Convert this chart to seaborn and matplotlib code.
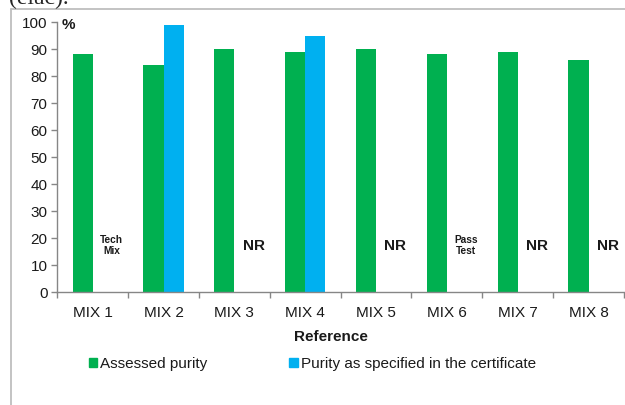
import numpy as np
import pandas as pd
import matplotlib
matplotlib.use('Agg')
import matplotlib.pyplot as plt
from matplotlib.lines import Line2D
from matplotlib.ticker import FixedLocator
import seaborn as sns

# values
mixes = ['MIX 1', 'MIX 2', 'MIX 3', 'MIX 4', 'MIX 5', 'MIX 6', 'MIX 7', 'MIX 8']
assessed = [88, 84, 90, 89, 90, 88, 89, 86]
certificate = [np.nan, 99, np.nan, 95, np.nan, np.nan, np.nan, np.nan]
notes = ['Tech\nMix', None, 'NR', None, 'NR', 'Pass\nTest', 'NR', 'NR']
series = ['Assessed purity', 'Purity as specified in the certificate']
colors = ['#00B050', '#00B0F0']

df = pd.DataFrame({
    'Reference': mixes * 2,
    'value': assessed + certificate,
    'series': [series[0]] * len(mixes) + [series[1]] * len(mixes),
}).dropna()

sns.set_style('white')
plt.rcParams['font.family'] = ['Liberation Sans', 'DejaVu Sans']

fig = plt.figure(figsize=(6.25, 4.05), dpi=100)
ax = fig.add_axes([57.3 / 625, 1 - 292.3 / 405, 566.7 / 625, 270.3 / 405])

sns.barplot(data=df, x='Reference', y='value', hue='series', order=mixes,
            hue_order=series, palette=colors, width=0.57, gap=0,
            saturation=1, linewidth=0, legend=False, ax=ax)

ax.set_xlim(-0.5, len(mixes) - 0.5)
ax.set_ylim(0, 100)
ax.set_yticks(range(0, 101, 10))

grey = '#868686'
for s in ['top', 'right']:
    ax.spines[s].set_visible(False)
for s in ['left', 'bottom']:
    ax.spines[s].set_color(grey)
    ax.spines[s].set_linewidth(1.0)

ax.tick_params(axis='y', direction='out', length=4, color=grey, width=1,
               labelsize=11, labelcolor='#1a1a1a', pad=3, left=True)
ax.tick_params(axis='x', which='major', length=0, labelsize=11,
               labelcolor='#1a1a1a', pad=10)
ax.xaxis.set_minor_locator(FixedLocator(np.arange(-0.5, len(mixes), 1.0)))
ax.tick_params(axis='x', which='minor', direction='out', length=4,
               color=grey, width=1, bottom=True)

ax.set_ylabel('')
ax.set_xlabel('Reference', fontsize=11, fontweight='bold', color='#1a1a1a')
ax.xaxis.set_label_coords(0.483, -0.141)

ax.text(0.007, 0.99, '%', transform=ax.transAxes, fontsize=11,
        fontweight='bold', ha='left', va='center', color='#1a1a1a')

for i, note in enumerate(notes):
    if note is None:
        continue
    small = '\n' in note
    ax.text(i + 0.27, 17.2, note, ha='center', va='center',
            fontsize=7.3 if small else 11, fontweight='bold',
            color='#1a1a1a', linespacing=1.15)

handles = [plt.Rectangle((0, 0), 1, 1, color=c) for c in colors]
fig.legend(handles, series, loc='center left',
           bbox_to_anchor=(88.5 / 625, 1 - 364 / 405), ncol=2, frameon=False,
           fontsize=11, handlelength=0.58, handleheight=0.58,
           handletextpad=0.2, columnspacing=5.35, borderpad=0,
           borderaxespad=0, labelcolor='#1a1a1a')

# outer frame of the figure box, cut off on the right and bottom
fc = '#BEBEBE'
fig.add_artist(Line2D([11 / 625, 1.0], [1 - 9 / 405] * 2, color=fc, lw=1.3,
                      transform=fig.transFigure))
fig.add_artist(Line2D([11 / 625] * 2, [0.0, 1 - 9 / 405], color=fc, lw=1.3,
                      transform=fig.transFigure))

# caption text above the box, clipped by the top edge as in the reference
fig.text(9 / 625, 1 - 4 / 405, '(elac).', fontsize=17,
         family=['Liberation Serif', 'DejaVu Serif'], va='baseline', ha='left')

fig.savefig('out.png', dpi=100)
